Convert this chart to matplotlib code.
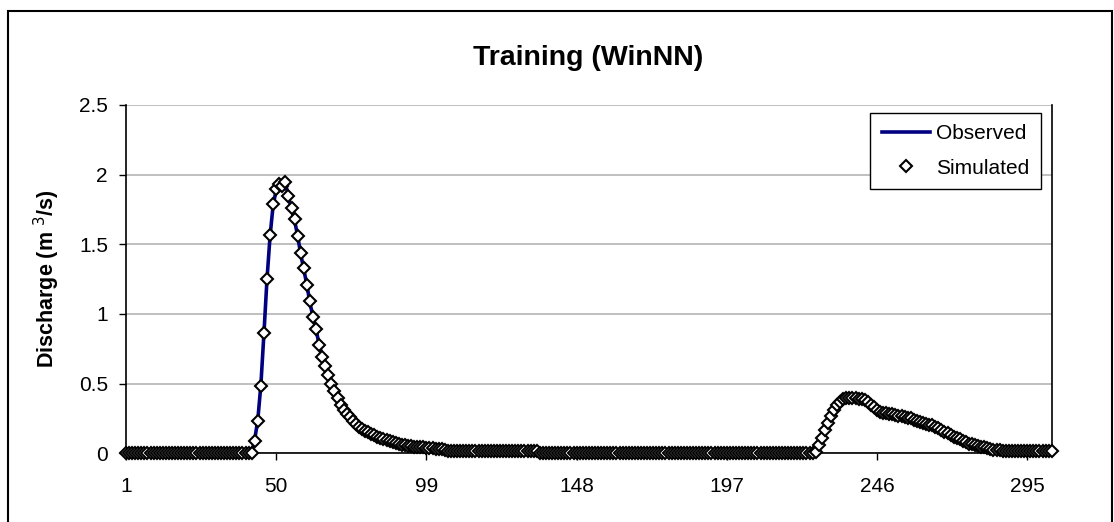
# Training hydrograph (WinNN): observed vs simulated discharge.
import matplotlib

matplotlib.use("Agg")
import matplotlib.pyplot as plt
from matplotlib.patches import Rectangle

plt.rcParams["font.family"] = ["Liberation Sans", "DejaVu Sans"]

# values, one per time step (303 steps)
LEAD_ZEROS = [0.0] * 42
PEAK1_OBS = [
    0.10, 0.24, 0.49, 0.86, 1.25, 1.56, 1.78, 1.89, 1.92, 1.93,
    1.94, 1.84, 1.75, 1.67, 1.56, 1.43, 1.32, 1.21, 1.08, 0.98,
    0.89, 0.78, 0.70, 0.63, 0.555, 0.505, 0.45, 0.40, 0.35, 0.31,
    0.28, 0.255, 0.23, 0.21, 0.19, 0.175, 0.16, 0.148, 0.138, 0.128,
    0.118, 0.11, 0.10, 0.095, 0.088, 0.08, 0.074, 0.068, 0.062, 0.058,
    0.054, 0.05, 0.048, 0.046, 0.044, 0.042, 0.04, 0.038, 0.036, 0.034,
    0.032, 0.03, 0.026,
]
PEAK1_SIM = [
    0.09, 0.23, 0.48, 0.86, 1.25, 1.57, 1.79, 1.90, 1.93, 1.92,
    1.95, 1.85, 1.76, 1.68, 1.56, 1.44, 1.33, 1.21, 1.09, 0.98,
    0.89, 0.78, 0.69, 0.63, 0.56, 0.50, 0.45, 0.40, 0.35, 0.31,
    0.28, 0.26, 0.23, 0.21, 0.19, 0.175, 0.16, 0.15, 0.14, 0.128,
    0.118, 0.11, 0.10, 0.095, 0.088, 0.08, 0.074, 0.068, 0.062, 0.058,
    0.054, 0.05, 0.048, 0.046, 0.044, 0.042, 0.04, 0.038, 0.036, 0.034,
    0.032, 0.03, 0.026,
]
LOW_FLOW = [0.02] * 30
DRY = [0.0] * 90
PEAK2_OBS = [
    0.01, 0.05, 0.10, 0.16, 0.21, 0.26, 0.30, 0.34, 0.37, 0.39,
    0.395, 0.40, 0.40, 0.40, 0.40, 0.395, 0.39, 0.37, 0.355, 0.335,
    0.31, 0.30, 0.29, 0.29, 0.285, 0.28, 0.275, 0.27, 0.27, 0.265,
    0.26, 0.25, 0.245, 0.235, 0.225, 0.22, 0.21, 0.205, 0.20, 0.195,
    0.185, 0.17, 0.155, 0.145, 0.13, 0.12, 0.11, 0.10, 0.088, 0.08,
    0.07, 0.064, 0.058, 0.052, 0.047, 0.043, 0.037, 0.032, 0.027, 0.024,
    0.022, 0.02, 0.02, 0.018,
]
PEAK2_SIM = [
    0.01, 0.06, 0.11, 0.17, 0.22, 0.27, 0.31, 0.35, 0.37, 0.39,
    0.40, 0.40, 0.40, 0.395, 0.39, 0.39, 0.38, 0.37, 0.35, 0.33,
    0.31, 0.30, 0.29, 0.29, 0.28, 0.28, 0.275, 0.27, 0.265, 0.26,
    0.255, 0.25, 0.24, 0.235, 0.225, 0.22, 0.21, 0.205, 0.20, 0.19,
    0.18, 0.17, 0.155, 0.145, 0.13, 0.12, 0.11, 0.10, 0.09, 0.08,
    0.07, 0.064, 0.058, 0.052, 0.047, 0.043, 0.037, 0.032, 0.027, 0.024,
    0.022, 0.02, 0.02, 0.018,
]
TAIL = [0.015] * 14

OBSERVED = LEAD_ZEROS + PEAK1_OBS + LOW_FLOW + DRY + PEAK2_OBS + TAIL
SIMULATED = LEAD_ZEROS + PEAK1_SIM + LOW_FLOW + DRY + PEAK2_SIM + TAIL
STEPS = list(range(1, len(OBSERVED) + 1))

X_TICKS = [1, 50, 99, 148, 197, 246, 295]
Y_TICKS = [0, 0.5, 1, 1.5, 2, 2.5]
Y_TICK_LABELS = ["0", "0.5", "1", "1.5", "2", "2.5"]


def main():
    fig = plt.figure(figsize=(11.14, 5.22), dpi=100)
    ax = fig.add_axes([0.1131, 0.1316, 0.8310, 0.6673])

    ax.grid(axis="y", color="#b4b4b4", linewidth=1.2, zorder=0)
    ax.plot(STEPS, OBSERVED, color="#000080", linewidth=2.6,
            label="Observed", zorder=2, clip_on=False)
    ax.plot(STEPS, SIMULATED, linestyle="none", marker="D", markersize=6.5,
            markerfacecolor="white", markeredgecolor="black",
            markeredgewidth=1.5, label="Simulated", zorder=3, clip_on=False)

    ax.set_xlim(1, 303)
    ax.set_ylim(0, 2.5)
    ax.set_xticks(X_TICKS)
    ax.set_yticks(Y_TICKS)
    ax.set_yticklabels(Y_TICK_LABELS)
    ax.tick_params(direction="out", length=5, width=1, labelsize=15,
                   color="black", pad=8)
    ax.tick_params(axis="x", pad=12)

    ax.spines["top"].set_visible(False)
    for side in ("left", "bottom", "right"):
        ax.spines[side].set_color("black")
        ax.spines[side].set_linewidth(1.2)

    ax.set_ylabel("Discharge (m $^{3}$/s)", fontsize=15.5,
                  fontweight="bold", labelpad=12)
    fig.text(0.528, 0.889, "Training (WinNN)", ha="center", va="center",
             fontsize=20.5, fontweight="bold")

    leg = ax.legend(loc="upper right", bbox_to_anchor=(0.988, 0.978),
                    borderaxespad=0, fontsize=15, handlelength=2.3,
                    fancybox=False, edgecolor="black", framealpha=1,
                    borderpad=0.55, labelspacing=0.75, handletextpad=0.3)
    leg.get_frame().set_linewidth(1.0)
    leg.set_zorder(5)

    # outer chart border, cut off on the right and bottom
    fig.patches.append(Rectangle((8 / 1114, -0.1), 1104 / 1114, 511 / 522 + 0.1,
                                 transform=fig.transFigure, fill=False,
                                 edgecolor="black", linewidth=1.5))

    fig.savefig("out.png", dpi=100)
    plt.close(fig)


if __name__ == "__main__":
    main()
